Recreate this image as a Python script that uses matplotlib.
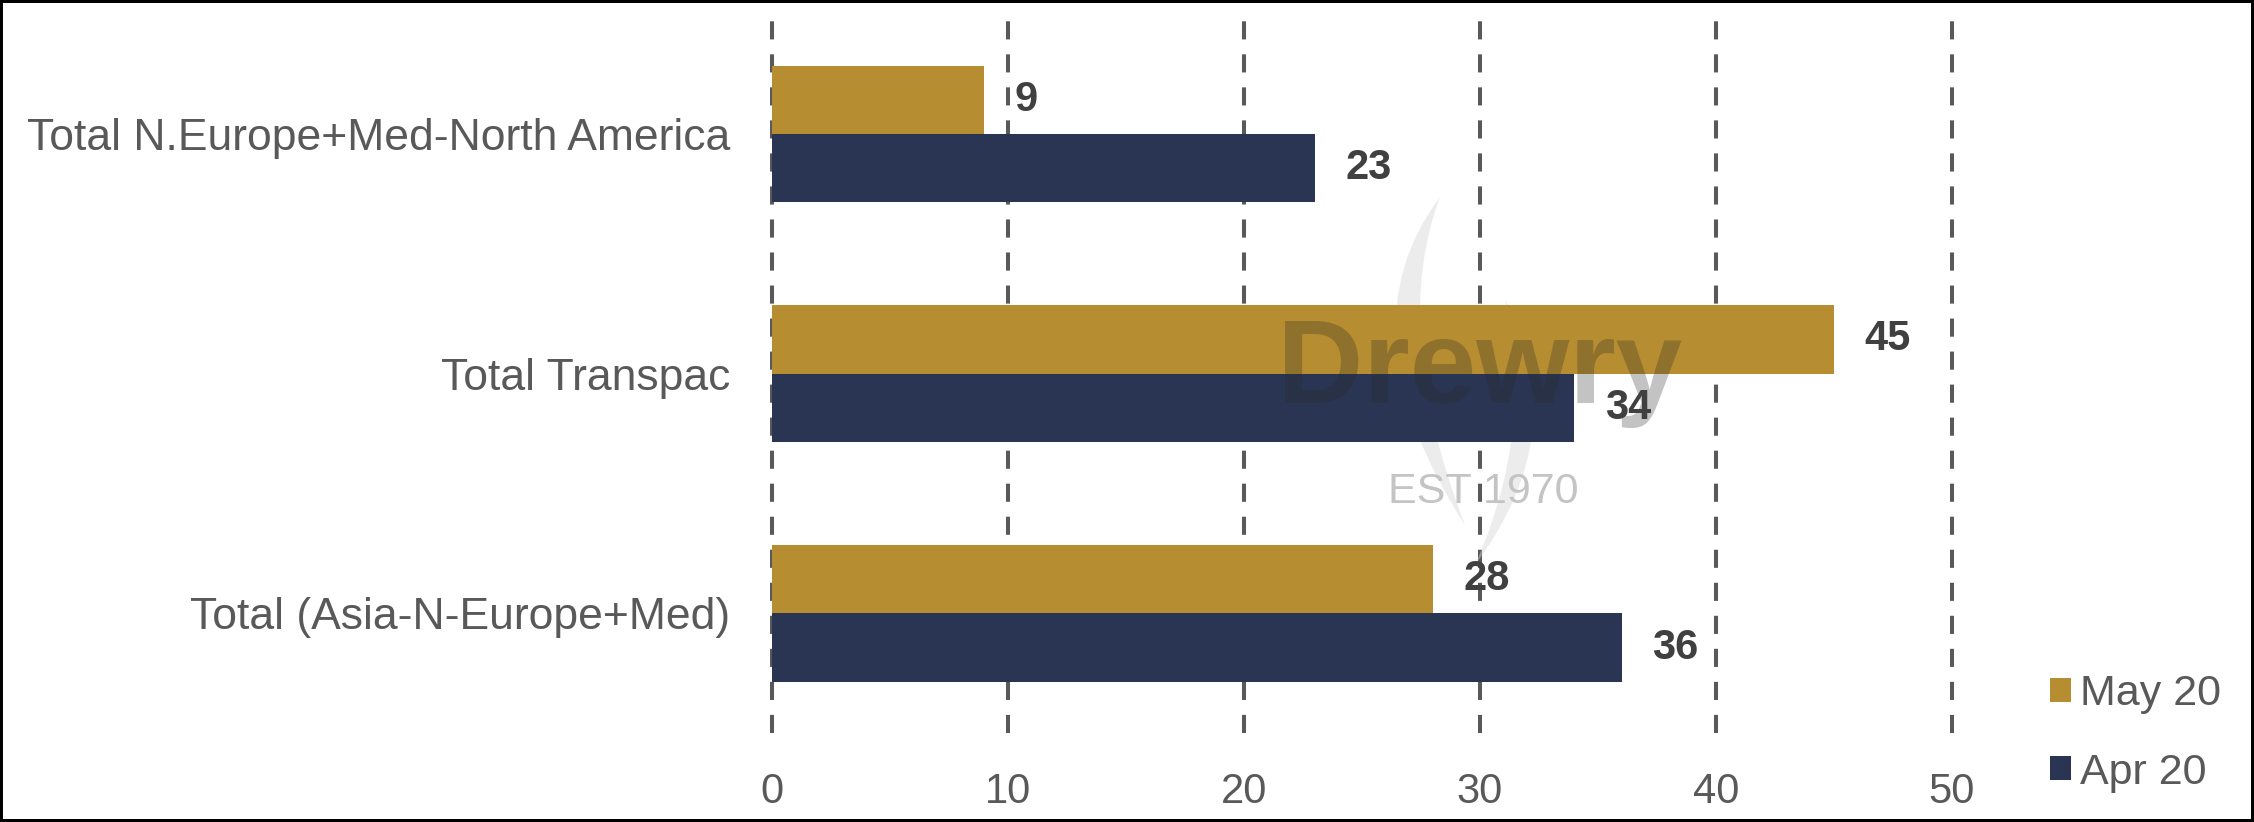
import matplotlib.pyplot as plt
from matplotlib.patches import Rectangle, PathPatch
from matplotlib.path import Path
import numpy as np

plt.rcParams['font.family'] = ['Liberation Sans', 'DejaVu Sans']

## data
routes = ['Total N.Europe+Med-North America', 'Total Transpac', 'Total (Asia-N-Europe+Med)']
may_20 = [9, 45, 28]
apr_20 = [23, 34, 36]
series_names = ['May 20', 'Apr 20']
x_ticks = [0, 10, 20, 30, 40, 50]

GOLD = '#B68D30'
NAVY = '#293553'
GREY = '#595959'

fig = plt.figure(figsize=(22.54, 8.22), dpi=100)
ax = fig.add_axes([0.3425, 0.108, 0.5235, 0.875])

y = np.arange(len(routes))
h = 0.285
bars_may = ax.barh(y - h / 2, may_20, height=h, color=GOLD, label=series_names[0], zorder=3)
bars_apr = ax.barh(y + h / 2, apr_20, height=h, color=NAVY, label=series_names[1], zorder=3)

## value labels
for bars in (bars_may, bars_apr):
    ax.bar_label(bars, padding=22, fontsize=30, fontweight='bold', color='#404040', zorder=5)

ax.set_xlim(0, 50)
ax.set_ylim(2.5, -0.5)
ax.set_xticks(x_ticks)
ax.set_yticks(y, routes)
for sp in ax.spines.values():
    sp.set_visible(False)
ax.tick_params(axis='both', length=0, colors=GREY)
ax.tick_params(axis='x', pad=28, labelsize=30)
ax.tick_params(axis='y', pad=30, labelsize=32)

ax.xaxis.grid(True, color=GREY, linewidth=2.9, linestyle=(0, (4.5, 3.7)))
ax.set_axisbelow(True)
for gl in ax.get_xgridlines():
    gl.set_clip_on(False)

## watermark: faint flame + logo text
def fr(X, Y):
    # full-image pixel -> axes fraction
    return ((X - 772) / 1180, (733 - Y) / 719)

flame_pts = [fr(1440, 197), fr(1340, 330), fr(1465, 525),
             fr(1390, 330), fr(1440, 197),
             fr(1505, 300), fr(1575, 430), fr(1475, 565),
             fr(1535, 430), fr(1505, 300)]
flame_codes = [Path.MOVETO, Path.CURVE3, Path.CURVE3, Path.CURVE3, Path.CURVE3,
               Path.MOVETO, Path.CURVE3, Path.CURVE3, Path.CURVE3, Path.CURVE3]
ax.add_patch(PathPatch(Path(flame_pts, flame_codes), transform=ax.transAxes,
                       facecolor='#d6d6d6', edgecolor='none', alpha=0.45, zorder=1))

ax.text(0.6, 0.502, 'Drewry', transform=ax.transAxes, fontsize=86, fontweight='bold',
        color='#2a2a2a', alpha=0.28, ha='center', va='center', zorder=4)
ax.text(0.603, 0.335, 'EST 1970', transform=ax.transAxes, fontsize=31,
        color='#c4c4c4', ha='center', va='center', zorder=4)

fig.legend(handles=[bars_may, bars_apr], loc='upper left', bbox_to_anchor=(0.9095, 0.18),
           frameon=False, fontsize=31, handlelength=0.48, handleheight=0.48,
           handletextpad=0.22, labelspacing=0.9, borderpad=0, borderaxespad=0,
           labelcolor=GREY)

## outer frame
fig.patches.append(Rectangle((0, 0), 1, 1, transform=fig.transFigure, fill=False,
                             edgecolor='black', linewidth=4.3))

fig.savefig('out.png', dpi=100)
